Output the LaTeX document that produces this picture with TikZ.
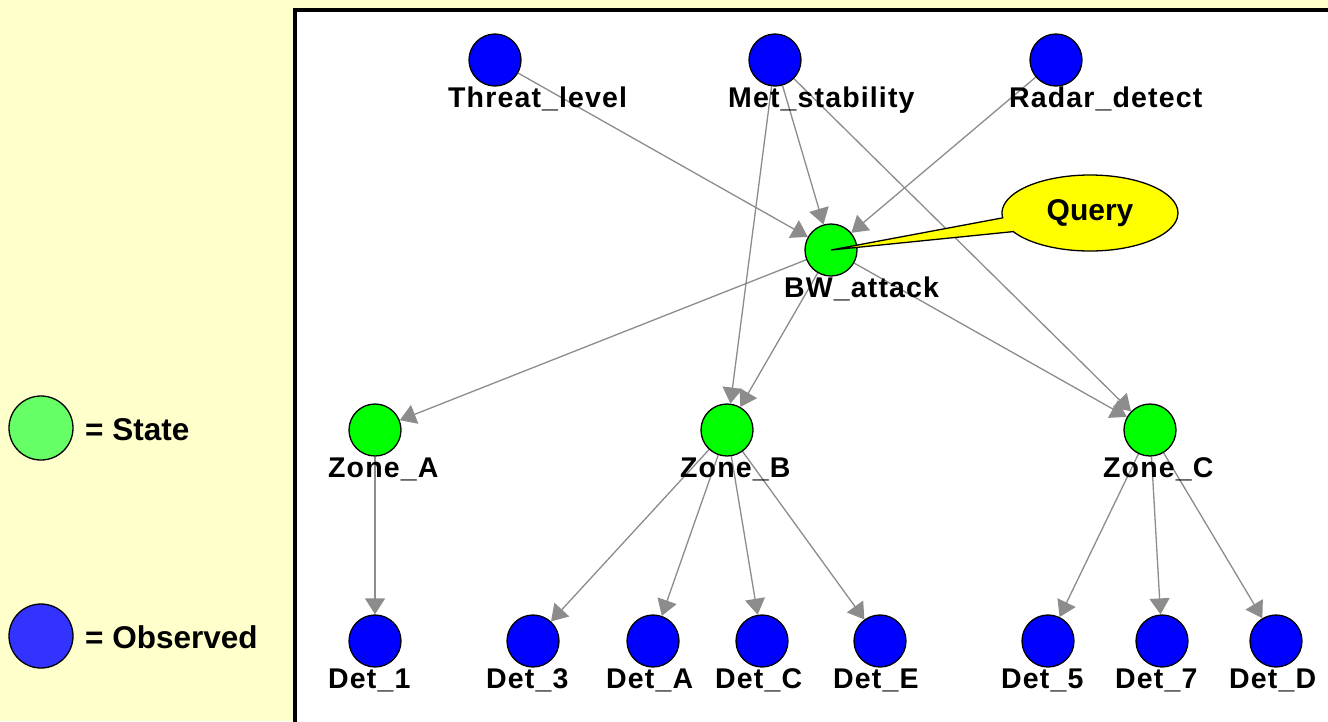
\documentclass[tikz,border=0pt]{standalone}
\usepackage{fontspec}
\setmainfont{Liberation Sans}
\newfontfamily\netfont[LetterSpace=4]{Liberation Sans}
\usetikzlibrary{arrows.meta,shapes.callouts,shapes.geometric}
\definecolor{paper}{HTML}{FFFFCC}
\definecolor{nodeblue}{HTML}{0000FF}
\definecolor{nodegreen}{HTML}{00FF00}
\definecolor{keyblue}{HTML}{3333FF}
\definecolor{keygreen}{HTML}{66FF66}
\definecolor{edgegray}{HTML}{8C8C8C}
\definecolor{calloutyellow}{HTML}{FFFF00}
\pgfdeclarelayer{bg}
\pgfdeclarelayer{edges}
\pgfsetlayers{bg,edges,main}
% #1 style, #2 name, #3 x, #4 y, #5 caption
\newcommand\netnode[5]{%
  \node[#1] (#2) at (#3,#4) {};
  \node[lab] (#2-lab) at (#3-47,#4+47) {#5};
}
\begin{document}
\begin{tikzpicture}[x=1pt,y=-1pt,
  var/.style={circle, draw=black, line width=1.3pt, minimum size=52pt, inner sep=0pt},
  obs/.style={var, fill=nodeblue},
  st/.style={var, fill=nodegreen},
  lab/.style={anchor=base west, inner sep=0pt, font=\netfont\fontsize{28.5}{30}\selectfont\bfseries},
  keylab/.style={anchor=base west, inner sep=0pt, font=\fontsize{31.5}{33}\selectfont\bfseries},
  keycirc/.style={circle, draw=black, line width=1.3pt, minimum size=64pt, inner sep=0pt},
  edge/.style={draw=edgegray, line width=1.3pt, -{Triangle[length=16pt,width=20pt]}}
]
\useasboundingbox (0,0) rectangle (1328,721);

% backdrop and network panel
\begin{pgfonlayer}{bg}
  \fill[paper] (0,0) rectangle (1328,721);
  \draw[fill=white, line width=4pt] (295,10) rectangle (1336,730);
\end{pgfonlayer}

% legend
\node[keycirc, fill=keygreen] (keystate) at (41,428) {};
\node[keylab] (keystate-lab) at (85,440) {= State};
\node[keycirc, fill=keyblue] (keyobs) at (41,636) {};
\node[keylab] (keyobs-lab) at (85,648) {= Observed};

% network nodes
\netnode{obs}{tl}{495}{60}{Threat\_level}
\netnode{obs}{ms}{775}{60}{Met\_stability}
\netnode{obs}{rd}{1056}{60}{Radar\_detect}
\netnode{st}{bw}{831}{250}{BW\_attack}
\netnode{st}{za}{375}{430}{Zone\_A}
\netnode{st}{zb}{727}{430}{Zone\_B}
\netnode{st}{zc}{1150}{430}{Zone\_C}
\netnode{obs}{d1}{375}{641}{Det\_1}
\netnode{obs}{d3}{533}{641}{Det\_3}
\netnode{obs}{dA}{653}{641}{Det\_A}
\netnode{obs}{dC}{762}{641}{Det\_C}
\netnode{obs}{dE}{880}{641}{Det\_E}
\netnode{obs}{d5}{1048}{641}{Det\_5}
\netnode{obs}{d7}{1162}{641}{Det\_7}
\netnode{obs}{dD}{1276}{641}{Det\_D}

% dependencies
\begin{pgfonlayer}{edges}
  \draw[edge] (tl) -- (bw);
  \draw[edge] (ms) -- (bw);
  \draw[edge] (rd) -- (bw);
  \draw[edge] (ms) -- (zb);
  \draw[edge] (ms) -- (zc);
  \draw[edge] (bw) -- (za);
  \draw[edge] (bw) -- (zb);
  \draw[edge] (bw) -- (zc);
  \draw[edge] (za) -- (d1);
  \draw[edge] (zb) -- (d3);
  \draw[edge] (zb) -- (dA);
  \draw[edge] (zb) -- (dC);
  \draw[edge] (zb) -- (dE);
  \draw[edge] (zc) -- (d5);
  \draw[edge] (zc) -- (d7);
  \draw[edge] (zc) -- (dD);
\end{pgfonlayer}

% query callout
\node[ellipse callout, draw=black, line width=1.3pt, fill=calloutyellow,
      minimum width=176pt, minimum height=76pt, inner sep=0pt,
      callout absolute pointer={(bw.center)}, callout pointer arc=22,
      font=\fontsize{30}{32}\selectfont\bfseries] (query) at (1090,213) {Query};
\end{tikzpicture}
\end{document}
